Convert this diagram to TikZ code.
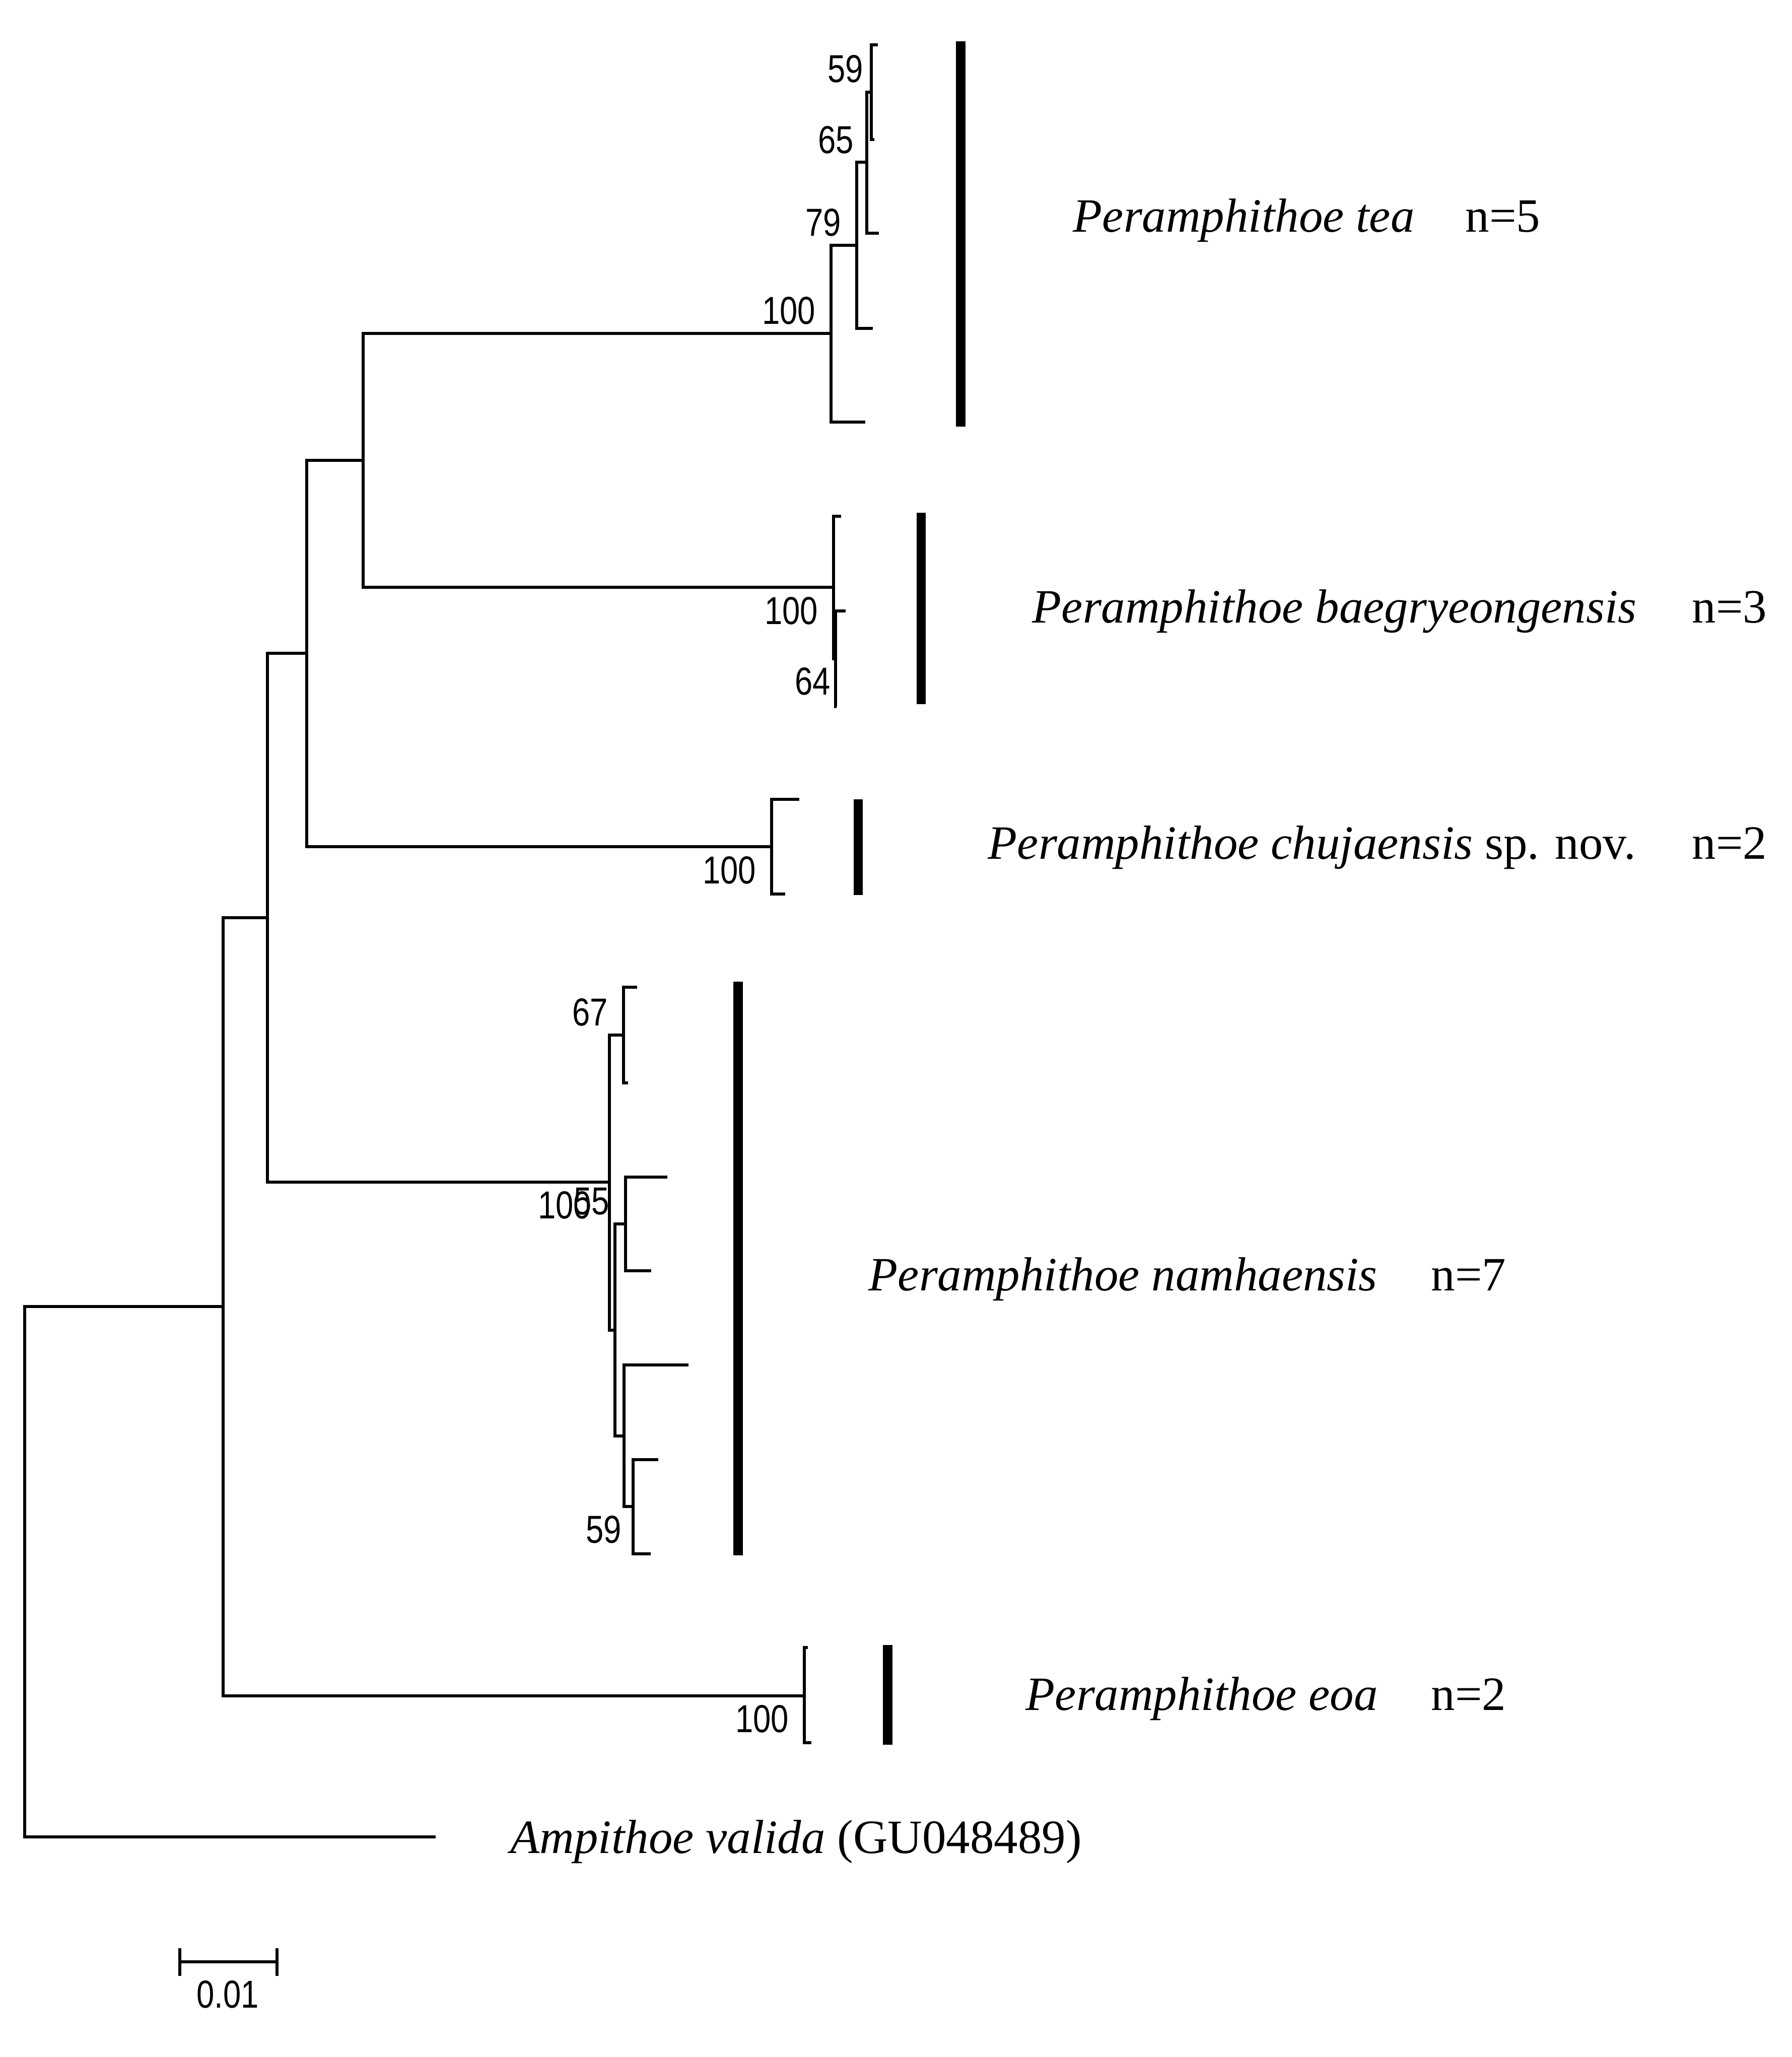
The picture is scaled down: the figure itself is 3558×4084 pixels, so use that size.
\documentclass[tikz,border=0pt]{standalone}
\usepackage{fontspec}
\setmainfont{Liberation Serif}
\newfontfamily\bootfont{Liberation Sans}
\usetikzlibrary{calc}
\newcommand{\bootval}[1]{\scalebox{0.82}[1]{#1}}

\begin{document}
\begin{tikzpicture}[x=0.01cm, y=-0.01cm, line width=1.6pt,
  taxon/.style={font=\fontsize{27}{32}\selectfont\itshape, anchor=base west, inner sep=0pt},
  count/.style={font=\fontsize{27}{32}\selectfont, anchor=base west, inner sep=0pt},
  boot/.style={font=\bootfont\fontsize{22}{26}\selectfont, anchor=south east, inner sep=0pt}]
\useasboundingbox (0,0) rectangle (3558,4084);
% backbone
\coordinate (root) at (49,3120);
\coordinate (out) at (865,3647);
\coordinate (ing) at (443,2594);
\coordinate (x1) at (531,1822);
\coordinate (x2) at (609,1297);
\coordinate (x3) at (721,914);
% P. tea
\coordinate (tea) at (1650,662);
\coordinate (t79) at (1701,487);
\coordinate (t65) at (1721,322);
\coordinate (t59) at (1730,183);
\coordinate (te1) at (1743,89);
\coordinate (te2) at (1736,277);
\coordinate (te3) at (1745,463);
\coordinate (te4) at (1733,652);
\coordinate (te5) at (1718,838);
% P. baegryeongensis
\coordinate (baeg) at (1655,1166);
\coordinate (b64) at (1659,1308);
\coordinate (ba1) at (1670,1025);
\coordinate (ba2) at (1679,1213);
\coordinate (ba3) at (1661,1403);
% P. chujaensis
\coordinate (chuj) at (1532,1681);
\coordinate (ch1) at (1587,1587);
\coordinate (ch2) at (1559,1775);
% P. namhaensis
\coordinate (namh) at (1210,2347);
\coordinate (n67) at (1238,2055);
\coordinate (nb) at (1221,2641);
\coordinate (nc) at (1242,2430);
\coordinate (nd) at (1239,2851);
\coordinate (n59) at (1257,2991);
\coordinate (na1) at (1265,1960);
\coordinate (na2) at (1247,2150);
\coordinate (na3) at (1325,2337);
\coordinate (na4) at (1293,2523);
\coordinate (na5) at (1367,2710);
\coordinate (na6) at (1307,2898);
\coordinate (na7) at (1292,3085);
% P. eoa
\coordinate (eoa) at (1597,3367);
\coordinate (eo1) at (1604,3271);
\coordinate (eo2) at (1611,3460);
% branches
\foreach \p/\c in {root/out, root/ing, ing/x1, ing/eoa, x1/x2, x1/namh, x2/x3, x2/chuj,
    x3/tea, x3/baeg, tea/t79, tea/te5, t79/t65, t79/te4, t65/t59, t65/te3, t59/te1, t59/te2,
    baeg/ba1, baeg/b64, b64/ba2, b64/ba3, chuj/ch1, chuj/ch2,
    namh/n67, namh/nb, n67/na1, n67/na2, nb/nc, nb/nd, nc/na3, nc/na4, nd/na5, nd/n59,
    n59/na6, n59/na7, eoa/eo1, eoa/eo2}
  \draw (\p) |- (\c);
% bootstrap values
\node[boot] (bs-t59) at (1717,167) {\bootval{59}};
\node[boot] (bs-t65) at (1698,308) {\bootval{65}};
\node[boot] (bs-t79) at (1673,472) {\bootval{79}};
\node[boot] (bs-tea) at (1622,647) {\bootval{100}};
\node[boot] (bs-baeg) at (1627,1243) {\bootval{100}};
\node[boot] (bs-b64) at (1652,1383) {\bootval{64}};
\node[boot] (bs-chuj) at (1504,1758) {\bootval{100}};
\node[boot] (bs-n67) at (1210,2040) {\bootval{67}};
\node[boot] (bs-namh) at (1177,2423) {\bootval{100}};
\node[boot] (bs-n55) at (1213,2415) {\bootval{55}};
\node[boot] (bs-n59) at (1237,3067) {\bootval{59}};
\node[boot] (bs-eoa) at (1569,3443) {\bootval{100}};
% clade bars
\fill (1898,82) rectangle (1917,847);
\fill (1820,1018) rectangle (1838,1398);
\fill (1695,1587) rectangle (1713,1777);
\fill (1456,1949) rectangle (1475,3088);
\fill (1753,3266) rectangle (1772,3464);
% taxon names
\node[taxon] (lab-tea) at (2128,460) {Peramphithoe tea};
\node[count] (n-tea) at (2907,460) {n=5};
\node[taxon] (lab-baeg) at (2047,1236) {Peramphithoe baegryeongensis};
\node[count] (n-baeg) at (3357,1236) {n=3};
\node[taxon] (lab-chuj) at (1959,1705) {Peramphithoe chujaensis \upshape sp. nov.};
\node[count] (n-chuj) at (3357,1705) {n=2};
\node[taxon] (lab-namh) at (1722,2562) {Peramphithoe namhaensis};
\node[count] (n-namh) at (2839,2562) {n=7};
\node[taxon] (lab-eoa) at (2034,3395) {Peramphithoe eoa};
\node[count] (n-eoa) at (2839,3395) {n=2};
\node[taxon] (lab-out) at (1011,3679) {Ampithoe valida \upshape(GU048489)};
% scale bar
\coordinate (sb1) at (357,3895);
\coordinate (sb2) at (550,3895);
\draw (sb1) -- (sb2);
\draw ($(sb1)+(0,-27)$) -- ($(sb1)+(0,28)$);
\draw ($(sb2)+(0,-27)$) -- ($(sb2)+(0,28)$);
\node[boot, anchor=south] (sb-lab) at (452,3990) {\bootval{0.01}};
\end{tikzpicture}
\end{document}
